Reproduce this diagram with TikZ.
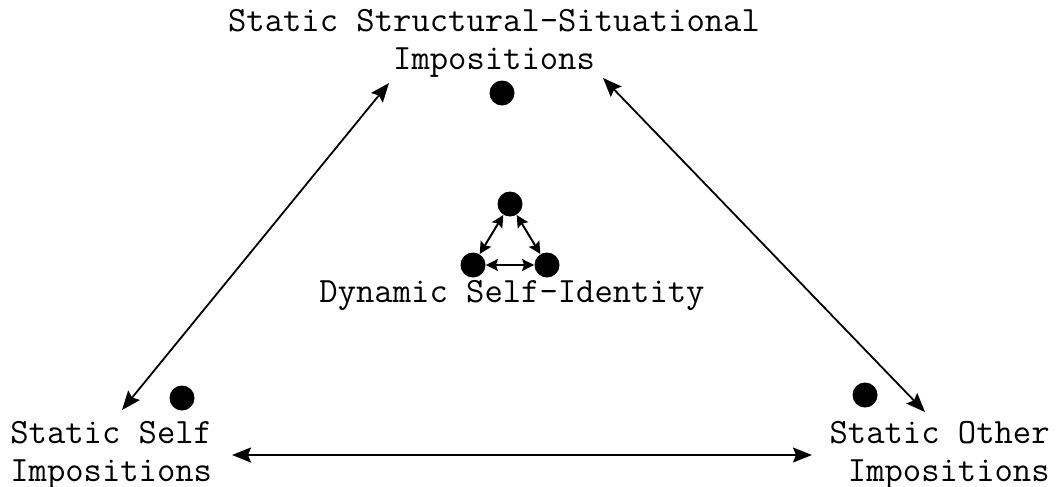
\documentclass[tikz,border=0pt]{standalone}
\usetikzlibrary{arrows.meta}
\begin{document}
\begin{tikzpicture}[
  x=0.5pt, y=-0.5pt,
  imposition/.style={inner sep=0pt, font=\ttfamily\fontsize{17.8}{19}\selectfont},
  dotnode/.style={circle, fill=black, inner sep=0pt, minimum size=12.5pt},
  bigarrow/.style={{Stealth[length=9.5pt,width=7.5pt,inset=1.5pt]}-{Stealth[length=9.5pt,width=7.5pt,inset=1.5pt]}, line width=0.9pt},
  smallarrow/.style={{Stealth[length=6pt,width=6pt,inset=1pt]}-{Stealth[length=6pt,width=6pt,inset=1pt]}, line width=1pt}
]
\useasboundingbox (0,0) rectangle (1060,487);

% the three static impositions
\node[imposition, align=center, anchor=north] (top) at (494,9) {Static Structural-Situational\\Impositions};
\node[imposition, align=left, anchor=north west] (self) at (10,421) {Static Self\\Impositions};
\node[imposition, align=right, anchor=north east] (other) at (1050,421) {Static Other\\Impositions};
\node[imposition, anchor=base] (dynamic) at (512,302) {Dynamic Self-Identity};

\node[dotnode] (dtop) at (502,93) {};
\node[dotnode] (dself) at (182,398) {};
\node[dotnode] (dother) at (865,395) {};

% small triangle of the dynamic self-identity
\node[dotnode] (st) at (510,204) {};
\node[dotnode] (sl) at (473,265) {};
\node[dotnode] (sr) at (547,265) {};

\draw[smallarrow] (st) -- (sl);
\draw[smallarrow] (st) -- (sr);
\draw[smallarrow] (sl) -- (sr);

% ends of the long arrows
\coordinate (topleft) at (389,83);
\coordinate (topright) at (603,78);
\coordinate (selfend) at (122,410);
\coordinate (otherend) at (925,412);
\coordinate (selfright) at (232,455);
\coordinate (otherleft) at (812,455);

\draw[bigarrow] (selfend) -- (topleft);
\draw[bigarrow] (topright) -- (otherend);
\draw[bigarrow] (selfright) -- (otherleft);
\end{tikzpicture}
\end{document}
